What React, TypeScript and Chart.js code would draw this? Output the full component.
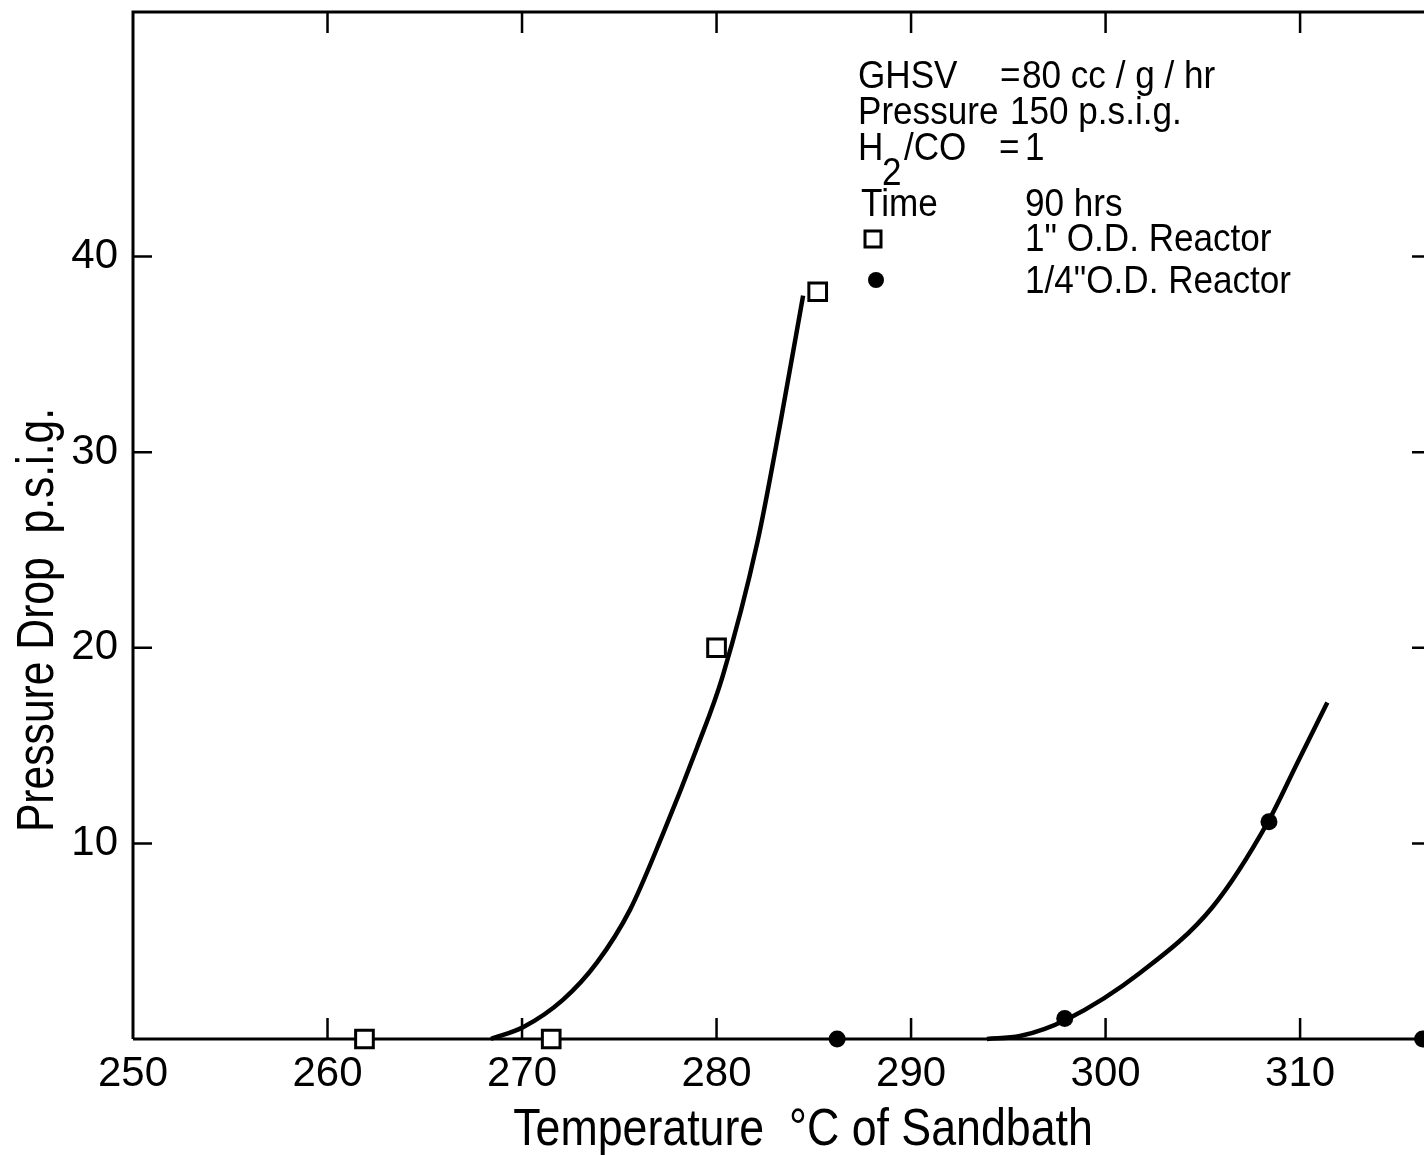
import { useEffect, useRef } from "react";
import { Chart, registerables } from "chart.js";

Chart.register(...registerables);

// ---- data ----
const xTicks = [250, 260, 270, 280, 290, 300, 310];
const yTicks = [10, 20, 30, 40];

// 1" O.D. reactor (open squares)
const reactor1Temp = [261.9, 271.5, 280.0, 285.2];
const reactor1Drop = [0, 0, 20.0, 38.2];

// 1/4" O.D. reactor (filled circles)
const reactor2Temp = [286.2, 297.9, 308.4, 316.3];
const reactor2Drop = [0, 1.05, 11.1, 0];

// hand-drawn fitted curves
const curve1Temp = [268.4, 270.05, 272.1, 273.85, 275.55, 277.25, 279.0, 280.3, 282.1, 283.3, 284.45];
const curve1Drop = [0, 0.6, 2.0, 3.9, 6.6, 10.5, 14.9, 18.5, 25.4, 31.6, 38.0];
const curve2Temp = [293.9, 295.6, 298.0, 301.8, 305.5, 308.35, 309.85, 311.4];
const curve2Drop = [0, 0.15, 1.0, 3.4, 6.75, 11.1, 14.1, 17.2];

const xTitle = "Temperature  \u00B0C of Sandbath";
const yTitle = "Pressure Drop  p.s.i.g.";

const condLabels = ["GHSV", "Pressure", "H", "2", "/CO", "Time"];
const condValues = ["=", "80 cc / g / hr", "150 p.s.i.g.", "=", "1", "90 hrs"];
const seriesLabels = ['1" O.D. Reactor', '1/4"O.D. Reactor'];

const FONT = '"Liberation Sans", Arial, sans-serif';

const toPts = (xs: number[], ys: number[]) => xs.map((x, i) => ({ x, y: ys[i] }));

function drawText(ctx: CanvasRenderingContext2D, text: string, x: number, y: number, sx: number) {
  ctx.save();
  ctx.translate(x, y);
  ctx.scale(sx, 1);
  ctx.fillText(text, 0, 0);
  ctx.restore();
}

const framePlugin = {
  id: "frame",
  beforeDatasetsDraw(chart: any) {
    const { ctx, chartArea, scales } = chart;
    const { left, right, top, bottom } = chartArea;
    const xs = scales.x;
    const ys = scales.y;
    ctx.save();
    ctx.strokeStyle = "#000";
    ctx.lineWidth = 3;
    ctx.beginPath();
    ctx.moveTo(left, bottom);
    ctx.lineTo(left, top);
    ctx.lineTo(right + 5, top);
    ctx.moveTo(left, bottom);
    ctx.lineTo(right + 5, bottom);
    ctx.stroke();
    ctx.lineWidth = 2.5;
    ctx.beginPath();
    for (const t of xTicks) {
      if (t === xs.min) continue;
      const px = xs.getPixelForValue(t);
      ctx.moveTo(px, bottom);
      ctx.lineTo(px, bottom - 21);
      ctx.moveTo(px, top);
      ctx.lineTo(px, top + 21);
    }
    for (const t of yTicks) {
      const py = ys.getPixelForValue(t);
      ctx.moveTo(left, py);
      ctx.lineTo(left + 19, py);
      ctx.moveTo(right, py);
      ctx.lineTo(right - 12, py);
    }
    ctx.stroke();
    ctx.restore();
  },
  afterDraw(chart: any) {
    const { ctx } = chart;
    ctx.save();
    ctx.fillStyle = "#000";
    ctx.textBaseline = "alphabetic";

    // axis titles
    ctx.font = `52px ${FONT}`;
    ctx.textAlign = "center";
    drawText(ctx, xTitle, 803, 1145, 0.86);
    ctx.save();
    ctx.translate(53, 620);
    ctx.rotate(-Math.PI / 2);
    ctx.scale(0.82, 1);
    ctx.fillText(yTitle, 0, 0);
    ctx.restore();

    // conditions block / key
    ctx.textAlign = "left";
    ctx.font = `39px ${FONT}`;
    const s = 0.9;
    drawText(ctx, condLabels[0], 858, 88, s);
    drawText(ctx, condValues[0], 1000, 88, s);
    drawText(ctx, condValues[1], 1022, 88, s);
    drawText(ctx, condLabels[1], 858, 124, s);
    drawText(ctx, condValues[2], 1010, 124, s);
    drawText(ctx, condLabels[2], 858, 160, s);
    drawText(ctx, condLabels[3], 882, 185, s);
    drawText(ctx, condLabels[4], 904, 160, s);
    drawText(ctx, condValues[3], 999, 160, s);
    drawText(ctx, condValues[4], 1025, 160, s);
    drawText(ctx, condLabels[5], 861, 216, s);
    drawText(ctx, condValues[5], 1025, 216, s);
    drawText(ctx, seriesLabels[0], 1025, 251, s);
    drawText(ctx, seriesLabels[1], 1025, 293, s);

    ctx.strokeStyle = "#000";
    ctx.lineWidth = 3;
    ctx.strokeRect(865, 231, 16, 16);
    ctx.beginPath();
    ctx.arc(876, 280, 8, 0, Math.PI * 2);
    ctx.fill();
    ctx.restore();
  },
};

export default function App() {
  const ref = useRef<HTMLCanvasElement>(null);
  useEffect(() => {
    document.body.style.margin = "0";
    const canvas = ref.current!;
    const chart = new Chart(canvas, {
      type: "scatter",
      data: {
        datasets: [
          {
            label: seriesLabels[0],
            data: toPts(reactor1Temp, reactor1Drop),
            pointStyle: "rect",
            pointRadius: 12.5,
            borderWidth: 3,
            borderColor: "#000",
            backgroundColor: "#fff",
            clip: false,
          } as any,
          {
            label: seriesLabels[1],
            data: toPts(reactor2Temp, reactor2Drop),
            pointStyle: "circle",
            pointRadius: 8.5,
            borderWidth: 0,
            backgroundColor: "#000",
            clip: false,
          },
          {
            label: "curve 1",
            data: toPts(curve1Temp, curve1Drop),
            showLine: true,
            pointRadius: 0,
            borderWidth: 4.5,
            borderColor: "#000",
            cubicInterpolationMode: "monotone",
            fill: false,
            clip: false,
          },
          {
            label: "curve 2",
            data: toPts(curve2Temp, curve2Drop),
            showLine: true,
            pointRadius: 0,
            borderWidth: 4.5,
            borderColor: "#000",
            cubicInterpolationMode: "monotone",
            fill: false,
            clip: false,
          },
        ],
      },
      options: {
        responsive: false,
        animation: false,
        devicePixelRatio: 1,
        layout: { padding: { top: 12, left: 0, right: 0, bottom: 0 }, autoPadding: false },
        plugins: { legend: { display: false }, tooltip: { enabled: false } },
        events: [],
        scales: {
          x: {
            type: "linear",
            min: 250,
            max: 316.37,
            grid: { display: false, drawTicks: false },
            border: { display: false },
            ticks: {
              stepSize: 10,
              includeBounds: false,
              autoSkip: false,
              maxRotation: 0,
              padding: 10,
              color: "#000",
              font: { family: FONT, size: 42 },
              callback: (v: any) => (xTicks.includes(Number(v)) ? String(v) : ""),
            },
            afterFit: (sc: any) => {
              sc.height = 116;
              sc.paddingLeft = 0;
              sc.paddingRight = 0;
            },
          },
          y: {
            type: "linear",
            min: 0,
            max: 52.5,
            grid: { display: false, drawTicks: false },
            border: { display: false },
            ticks: {
              stepSize: 10,
              includeBounds: false,
              autoSkip: false,
              padding: 15,
              color: "#000",
              font: { family: FONT, size: 42 },
              callback: (v: any) => (yTicks.includes(Number(v)) ? String(v) : ""),
            },
            afterFit: (sc: any) => {
              sc.width = 133;
              sc.paddingTop = 0;
              sc.paddingBottom = 0;
            },
          },
        },
      },
      plugins: [framePlugin],
    });
    return () => chart.destroy();
  }, []);
  return (
    <div style={{ width: 1424, height: 1155, overflow: "hidden", background: "#fff" }}>
      <canvas ref={ref} width={1424} height={1155} style={{ display: "block" }} />
    </div>
  );
}
